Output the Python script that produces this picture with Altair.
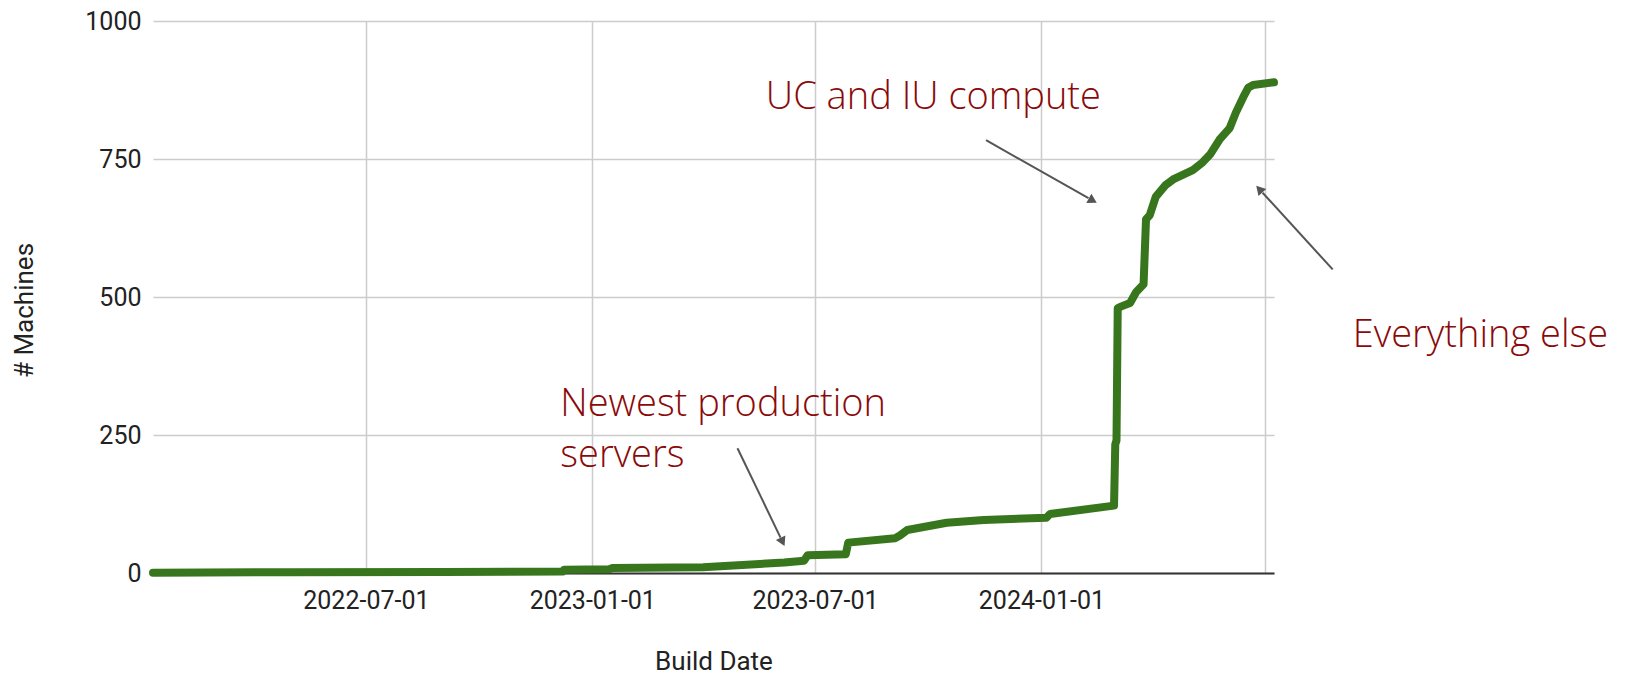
import altair as alt
import pandas as pd

# ---- main series (cumulative machines by build date) ----
dates = [
    "2022-01-09", "2022-05-01", "2022-09-01", "2022-12-08", "2022-12-09",
    "2023-01-15", "2023-01-17", "2023-04-01", "2023-06-06", "2023-06-22",
    "2023-06-25", "2023-07-26", "2023-07-28", "2023-09-04", "2023-09-08",
    "2023-09-14", "2023-10-16", "2023-11-15", "2024-01-05", "2024-01-08",
    "2024-02-29", "2024-03-01", "2024-03-02", "2024-03-03", "2024-03-06",
    "2024-03-13", "2024-03-18", "2024-03-24", "2024-03-26", "2024-03-29",
    "2024-04-03", "2024-04-11", "2024-04-17", "2024-05-03", "2024-05-11",
    "2024-05-17", "2024-05-25", "2024-06-02", "2024-06-07", "2024-06-13",
    "2024-06-17", "2024-06-21", "2024-07-08",
]
machines = [
    0.5, 1.5, 2, 2.5, 6,
    7, 9, 10.5, 19, 22,
    32, 34, 55, 63, 68,
    78, 91, 96, 100, 107,
    122, 233, 240, 480, 483,
    489, 509, 523, 641, 648,
    682, 703, 713, 730, 744,
    758, 786, 806, 834, 862,
    879, 884, 889,
]

# ---- axis ticks ----
x_tick_dates = ["2022-07-01", "2023-01-01", "2023-07-01", "2024-01-01", "2024-07-01"]
y_ticks = [0, 250, 500, 750, 1000]
x_domain = ["2022-01-09", "2024-07-08"]

# ---- annotations ----
note_texts = ["UC and IU compute", "Newest production", "servers", "Everything else"]
note_dates = ["2023-05-22", "2022-12-06", "2022-12-06", "2024-09-10"]
note_values = [840, 284, 192, 409]

arrow_start_dates = ["2023-04-29", "2023-11-17", "2024-08-24T16:00:00Z"]
arrow_start_values = [226, 784, 550]
arrow_end_dates = ["2023-06-06", "2024-02-14T17:00:00Z", "2024-06-23T19:00:00Z"]
arrow_end_values = [50, 671, 701]
arrow_angles = [154.5, 119.3, 317.8]
arrow_head_back = [0.05, 0.045, 0.05]


def ms(s):
    t = pd.Timestamp(s)
    if t.tzinfo is None:
        t = t.tz_localize("UTC")
    return int(t.value // 10**6)


df = pd.DataFrame({"date": [ms(d) for d in dates], "machines": machines})

notes = pd.DataFrame({
    "date": [ms(d) for d in note_dates],
    "value": note_values,
    "text": note_texts,
})

arrows = pd.DataFrame({
    "x1": [ms(d) for d in arrow_start_dates],
    "y1": arrow_start_values,
    "x2": [ms(d) for d in arrow_end_dates],
    "y2": arrow_end_values,
    "angle": arrow_angles,
    "k": arrow_head_back,
})
arrows["hx"] = arrows["x2"] - (arrows["x2"] - arrows["x1"]) * arrows["k"]
arrows["hy"] = arrows["y2"] - (arrows["y2"] - arrows["y1"]) * arrows["k"]
arrows["lx"] = arrows["x2"] - (arrows["x2"] - arrows["x1"]) * arrows["k"] * 1.6
arrows["ly"] = arrows["y2"] - (arrows["y2"] - arrows["y1"]) * arrows["k"] * 1.6

x_scale = alt.Scale(type="utc", domain=[ms(d) for d in x_domain])
y_scale = alt.Scale(domain=[0, 1000], nice=False)

x_axis = alt.Axis(
    values=[ms(d) for d in x_tick_dates],
    labelExpr="datum.value > 1710000000000 ? '' : utcFormat(datum.value, '%Y-%m-%d')",
    grid=True, gridColor="#cccccc", gridWidth=1.5,
    domain=True, domainColor="#333333", domainWidth=2,
    ticks=False,
    labelFont="Roboto", labelFontSize=25, labelColor="#222222",
    labelPadding=15, labelBaseline="top",
    title="Build Date", titleFont="Roboto", titleFontSize=26,
    titleFontWeight="normal", titleColor="#222222",
    titleBaseline="middle", titleY=88,
)
y_axis = alt.Axis(
    values=y_ticks,
    format="d",
    grid=True, gridColor="#cccccc", gridWidth=1.5,
    domain=False, ticks=False,
    labelFont="Roboto", labelFontSize=25, labelColor="#222222",
    labelPadding=12, labelBaseline="middle",
    title="# Machines", titleFont="Roboto", titleFontSize=26,
    titleFontWeight="normal", titleColor="#222222",
    titleAngle=270, titleAlign="center", titleBaseline="middle",
    titleX=-129, titleY=289,
)

line = alt.Chart(df).mark_line(
    color="#38761d", strokeWidth=8, strokeCap="round", strokeJoin="round"
).encode(
    x=alt.X("date:T", scale=x_scale, axis=x_axis),
    y=alt.Y("machines:Q", scale=y_scale, axis=y_axis),
)

rules = alt.Chart(arrows).mark_rule(color="#555555", strokeWidth=2).encode(
    x=alt.X("x1:T", scale=x_scale),
    y=alt.Y("y1:Q", scale=y_scale),
    x2="lx:T",
    y2="ly:Q",
)

heads = alt.Chart(arrows).mark_point(
    shape="triangle", filled=True, size=110, color="#555555", opacity=1
).encode(
    x=alt.X("hx:T", scale=x_scale),
    y=alt.Y("hy:Q", scale=y_scale),
    angle=alt.Angle("angle:Q", scale=None),
)

texts = alt.Chart(notes).mark_text(
    align="left", baseline="alphabetic", font="Open Sans", fontWeight=300,
    fontSize=38, color="#8a0a0a",
).encode(
    x=alt.X("date:T", scale=x_scale),
    y=alt.Y("value:Q", scale=y_scale),
    text="text:N",
)

chart = alt.layer(line, rules, heads, texts).properties(
    width=1121,
    height=552,
    autosize=alt.AutoSizeParams(type="none"),
    padding={"left": 145, "top": 13, "right": 347, "bottom": 102},
    background="white",
).configure_view(stroke=None)

chart.save("out.html", embed_options={"renderer": "svg", "actions": False})
